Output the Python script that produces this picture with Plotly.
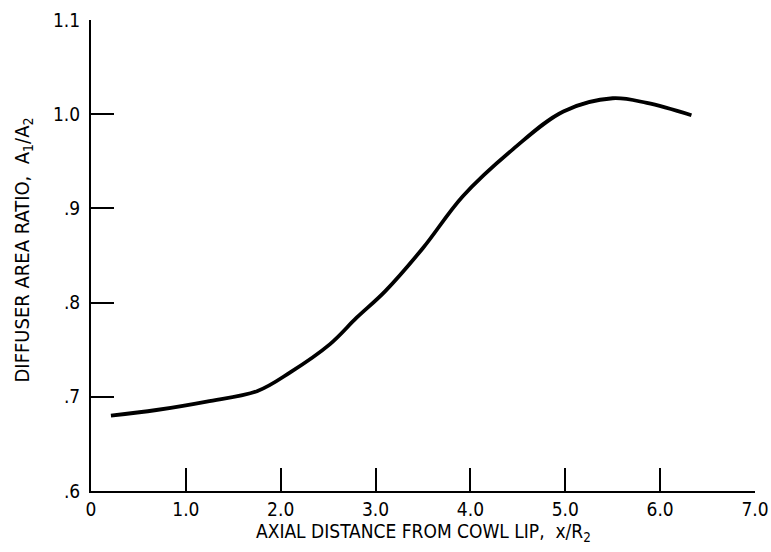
import plotly.graph_objects as go

x_vals = [0.21, 0.69, 1.22, 1.75, 2.10, 2.52, 2.80, 3.10, 3.50, 3.92, 4.45, 4.98, 5.50, 5.86, 6.33]
y_vals = [0.680, 0.686, 0.695, 0.706, 0.726, 0.756, 0.784, 0.812, 0.858, 0.913, 0.963, 1.003, 1.017, 1.012, 0.999]

x_ticks = [0, 1, 2, 3, 4, 5, 6, 7]
x_labels = ["0", "1.0", "2.0", "3.0", "4.0", "5.0", "6.0", "7.0"]
y_ticks = [0.6, 0.7, 0.8, 0.9, 1.0, 1.1]
y_labels = [".6", ".7", ".8", ".9", "1.0", "1.1"]

x_title = "AXIAL DISTANCE FROM COWL LIP,  x/R<sub>2</sub>"
y_title = "DIFFUSER AREA RATIO,  A<sub>1</sub>/A<sub>2</sub>"

font_family = "DejaVu Sans Condensed, Liberation Sans Narrow, sans-serif"

fig = go.Figure()
fig.add_trace(go.Scatter(
    x=x_vals, y=y_vals, mode="lines",
    line=dict(color="black", width=3.8, shape="spline", smoothing=1.0),
    showlegend=False, hoverinfo="skip",
))

axis_common = dict(
    ticks="inside", ticklen=23, tickwidth=2, tickcolor="black",
    showline=True, linewidth=2, linecolor="black", showgrid=False, zeroline=False,
    tickfont=dict(size=19, family=font_family, color="black"),
    automargin=False,
)

fig.update_layout(
    width=771, height=552,
    margin=dict(l=91, r=16, t=20, b=61),
    paper_bgcolor="white", plot_bgcolor="white",
    font=dict(family=font_family, color="black", size=18),
    xaxis=dict(range=[0, 7.0001], tickvals=x_ticks, ticktext=x_labels,
               ticklabelstandoff=0, **axis_common),
    yaxis=dict(range=[0.6, 1.1001], tickvals=y_ticks, ticktext=y_labels,
               ticklabelstandoff=5, **axis_common),
    annotations=[
        dict(text=x_title, xref="paper", yref="paper", x=0.5, y=0,
             xanchor="center", yanchor="middle", yshift=-41, showarrow=False,
             font=dict(size=19, family=font_family, color="black")),
        dict(text=y_title, xref="paper", yref="paper", x=0, y=0.5,
             xanchor="center", yanchor="middle", xshift=-69, yshift=5,
             textangle=-90, showarrow=False,
             font=dict(size=20, family=font_family, color="black")),
    ],
)

# remove the default page margin so the figure sits at the window's corner
fig.write_html(
    "out.html",
    config={"displayModeBar": False},
    post_script="document.body.style.margin='0';document.body.style.overflow='hidden';",
)
